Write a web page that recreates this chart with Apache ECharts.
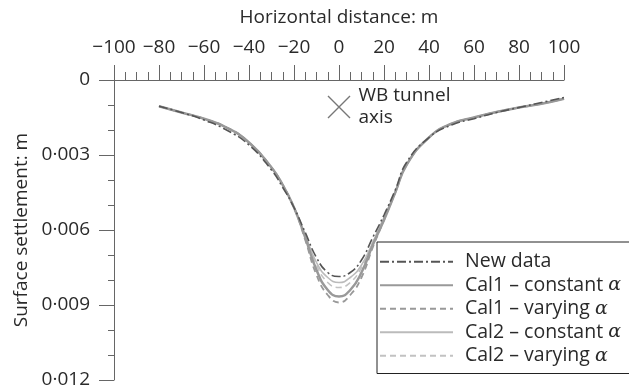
<!DOCTYPE html>
<html>
<head>
<meta charset="utf-8">
<script src="https://cdn.jsdelivr.net/npm/echarts@6/dist/echarts.min.js"></script>
<style>html,body{margin:0;padding:0;background:#fff}#c{width:629px;height:391px}</style>
</head>
<body>
<div id="c"></div>
<script>
var xs = [-80,-70,-60,-50,-40,-30,-25,-20,-15,-10,-5,0,5,10,15,20,25,30,40,50,60,70,80,90,100];
var newData   = [0.00105,0.0013,0.0016,0.0020,0.0026,0.0036,0.0043,0.0051,0.0061,0.0071,0.0077,0.00786,0.0077,0.0072,0.0063,0.0054,0.0044,0.0033,0.0023,0.0018,0.00155,0.0013,0.0011,0.0009,0.0007];
var cal1Const = [0.00105,0.0013,0.00155,0.0019,0.0025,0.0035,0.0042,0.0051,0.0063,0.0076,0.0084,0.00866,0.0084,0.0077,0.0066,0.0056,0.0045,0.0034,0.0023,0.00175,0.0015,0.00128,0.0011,0.00095,0.00075];
var cal1Vary  = [0.00105,0.0013,0.00155,0.0019,0.0025,0.0035,0.0042,0.0051,0.0064,0.0078,0.0086,0.0089,0.0086,0.0079,0.0067,0.0056,0.0045,0.0034,0.0023,0.00175,0.0015,0.00128,0.0011,0.00095,0.00075];
var cal2Const = [0.00105,0.0013,0.00155,0.0019,0.0025,0.0035,0.0042,0.0051,0.0062,0.0073,0.0079,0.0081,0.0079,0.0074,0.0065,0.0055,0.0045,0.0034,0.0023,0.00175,0.0015,0.00128,0.0011,0.00095,0.00075];
var cal2Vary  = [0.00105,0.0013,0.00155,0.0019,0.0025,0.0035,0.0042,0.0051,0.0062,0.0074,0.0081,0.0083,0.0081,0.0075,0.0065,0.0055,0.0045,0.0034,0.0023,0.00175,0.0015,0.00128,0.0011,0.00095,0.00075];
var seriesNames = ['New data','Cal1 \u2013 constant \u03b1','Cal1 \u2013 varying \u03b1','Cal2 \u2013 constant \u03b1','Cal2 \u2013 varying \u03b1'];
var tunnelPoint = [0, 0.00108];
var tunnelLabel = 'WB tunnel\naxis';
var xTitle = 'Horizontal distance: m';
var yTitle = 'Surface settlement: m';

function pairs(v){ return xs.map(function(x,i){ return [x, v[i]]; }); }
var FONT = '"Open Sans", sans-serif';
var TXT = '#2a2a2a';
var AX = '#666';
var FS = 19;

var styles = [
  {color:'#555', width:1.6, type:[9,3,2,3]},
  {color:'#999', width:2.5, type:'solid'},
  {color:'#999', width:1.8, type:[6,4]},
  {color:'#bbb', width:1.6, type:'solid'},
  {color:'#c2c2c2', width:1.6, type:[6,4]}
];
var vals = [newData, cal1Const, cal1Vary, cal2Const, cal2Vary];

var series = vals.map(function(v,i){
  return {
    name: seriesNames[i], type:'line', smooth:true, symbol:'none', showSymbol:false,
    data: pairs(v),
    lineStyle: {color: styles[i].color, width: styles[i].width, type: styles[i].type},
    itemStyle: {color: styles[i].color},
    z: 5 - i
  };
});
series.push({
  type:'scatter', name:'tunnel', data:[tunnelPoint],
  symbol:'path://M0,0L10,10M10,0L0,10', symbolSize:22,
  itemStyle:{color:'none', borderColor:'#777', borderWidth:1.4, opacity:1},
  label:{show:true, position:'right', distance:6, formatter:tunnelLabel, opacity:1,
    fontFamily:FONT, fontSize:FS, color:TXT, lineHeight:22, align:'left'},
  silent:true
});

var chart = echarts.init(document.getElementById('c'), null, {renderer:'canvas'});
chart.setOption({
  animation:false,
  grid:{left:114, right:65, top:80, bottom:11, containLabel:false},
  legend:{
    data: seriesNames, orient:'vertical', left:377, top:242,
    itemWidth:73, itemHeight:14, itemGap:0,
    padding:[8,20,6,2],
    borderColor:'#222', borderWidth:1, backgroundColor:'#fff',
    itemStyle:{opacity:0},
    textStyle:{fontFamily:FONT, fontSize:19.5, color:TXT, lineHeight:23.5, padding:[0,0,0,7],
      rich:{a:{fontFamily:'"DejaVu Serif", serif', fontStyle:'italic', fontSize:19, color:TXT, lineHeight:23.5}}},
    formatter:function(n){ return n.replace('\u03b1','{a|\u03b1}'); },
    selectedMode:false
  },
  xAxis:{
    type:'value', position:'top', min:-100, max:100, interval:20,
    name:xTitle, nameLocation:'middle', nameGap:53,
    nameTextStyle:{fontFamily:FONT, fontSize:FS, color:TXT},
    axisLine:{show:true, onZero:false, lineStyle:{color:AX, width:1}},
    axisTick:{show:true, length:15, lineStyle:{color:AX}},
    minorTick:{show:true, splitNumber:4, length:8, lineStyle:{color:AX}},
    axisLabel:{fontFamily:FONT, fontSize:FS, color:TXT, margin:23,
      formatter:function(v){ return v<0 ? '\u2212'+Math.abs(v) : String(v); }},
    splitLine:{show:false}
  },
  yAxis:{
    type:'value', inverse:true, min:0, max:0.012, interval:0.003,
    name:yTitle, nameLocation:'middle', nameGap:82, nameRotate:90,
    nameTextStyle:{fontFamily:FONT, fontSize:FS, color:TXT},
    axisLine:{show:true, onZero:false, lineStyle:{color:AX, width:1}},
    axisTick:{show:true, length:15, lineStyle:{color:AX}},
    minorTick:{show:true, splitNumber:3, length:6, lineStyle:{color:AX}},
    axisLabel:{fontFamily:FONT, fontSize:FS, color:TXT, margin:24,
      formatter:function(v){ return v===0 ? '0' : v.toFixed(3).replace('.','\u00b7'); }},
    splitLine:{show:false}
  },
  series: series
});
</script>
</body>
</html>
